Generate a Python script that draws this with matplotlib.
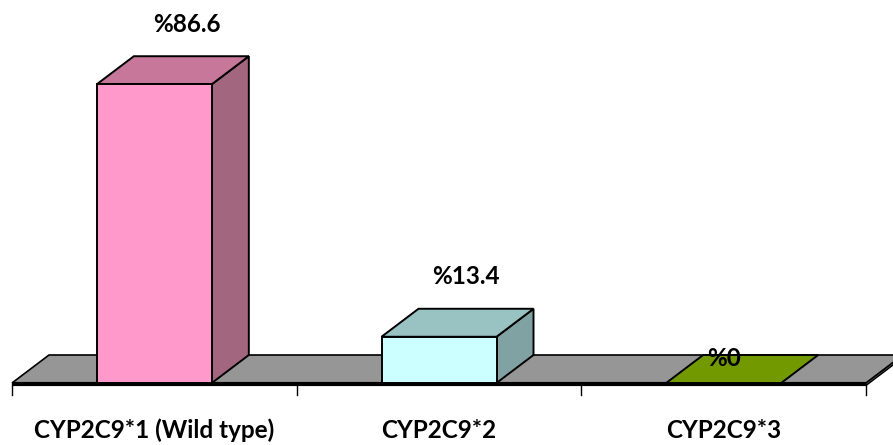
import matplotlib
matplotlib.use("Agg")
import matplotlib.pyplot as plt
from matplotlib.patches import Polygon, Rectangle

# Allele frequencies
categories = ["CYP2C9*1 (Wild type)", "CYP2C9*2", "CYP2C9*3"]
values = [86.6, 13.4, 0.0]
value_labels = ["%86.6", "%13.4", "%0"]

# Face colours for each column: front, top, side
front_colors = ["#FF99CC", "#CCFFFF", "#739900"]
top_colors = ["#C7789A", "#99C3C3", "#739900"]
side_colors = ["#A3667F", "#80A2A2", "#5C7A00"]
floor_color = "#969696"

# Per-label horizontal nudge (pixels)
label_nudge_px = [33, 27, 0]

W, H, DPI = 893, 445, 100
fig = plt.figure(figsize=(W / DPI, H / DPI), dpi=DPI)
fig.patch.set_facecolor("white")

px_per_unit = 3.45
ax_left, ax_right = 12, 866
ax_bottom_px = 445 - 383
ax = fig.add_axes([ax_left / W, ax_bottom_px / H, (ax_right - ax_left) / W, (H - ax_bottom_px) / H])
ymax = (H - ax_bottom_px) / px_per_unit
ax.set_xlim(-0.5, 2.5)
ax.set_ylim(0, ymax)
ax.axis("off")

cat_px = (ax_right - ax_left) / 3.0
ddx = 37 / cat_px            # depth offset in data units
ddy = 28 / px_per_unit
bar_w = 115 / cat_px
lw = 1.4
font = ["Lato", "DejaVu Sans"]

# Floor
floor = Polygon([(-0.5, 0), (2.5, 0), (2.5 + ddx, ddy), (-0.5 + ddx, ddy)],
                closed=True, facecolor=floor_color, edgecolor="black", lw=1.2, clip_on=False, zorder=1)
ax.add_patch(floor)
thick = 2.5 / px_per_unit
ax.add_patch(Polygon([(2.5, 0), (2.5 + ddx, ddy), (2.5 + ddx, ddy - thick), (2.5, -thick)],
                     closed=True, facecolor="#555555", edgecolor="black", lw=1.0, clip_on=False, zorder=1))
ax.plot([-0.5, 2.5], [-0.3, -0.3], color="black", lw=3, clip_on=False, zorder=2, solid_capstyle="butt")

# Category tick marks at boundaries
for b in [-0.5, 0.5, 1.5, 2.5]:
    ax.plot([b, b], [-0.3, -12 / px_per_unit], color="black", lw=1.0, clip_on=False, zorder=2)

for i, (v, fc, tc, sc) in enumerate(zip(values, front_colors, top_colors, side_colors)):
    x0 = i - bar_w / 2
    x1 = i + bar_w / 2
    # side face
    if v > 0:
        ax.add_patch(Polygon([(x1, 0), (x1 + ddx, ddy), (x1 + ddx, v + ddy), (x1, v)],
                             closed=True, facecolor=sc, edgecolor="black", lw=lw, clip_on=False, zorder=3,
                             joinstyle="miter"))
    # top face
    ax.add_patch(Polygon([(x0, v), (x1, v), (x1 + ddx, v + ddy), (x0 + ddx, v + ddy)],
                         closed=True, facecolor=tc, edgecolor="black", lw=lw, clip_on=False, zorder=3,
                         joinstyle="miter"))
    # front face
    if v > 0:
        ax.add_patch(Rectangle((x0, 0), bar_w, v, facecolor=fc, edgecolor="black", lw=lw,
                               clip_on=False, zorder=4, joinstyle="miter"))
    # value label
    off_y = 32 if v > 0 else -3
    ax.annotate(value_labels[i], xy=(i, v + ddy), xytext=(label_nudge_px[i], off_y),
                textcoords="offset pixels", ha="center", va="center",
                fontsize=17.5, fontweight="bold", family=font, zorder=6)

    # category label
    ax.text(i, -47 / px_per_unit, categories[i], ha="center", va="center",
            fontsize=17.5, fontweight="bold", family=font, clip_on=False)

fig.savefig("out.png", dpi=DPI, facecolor="white")
